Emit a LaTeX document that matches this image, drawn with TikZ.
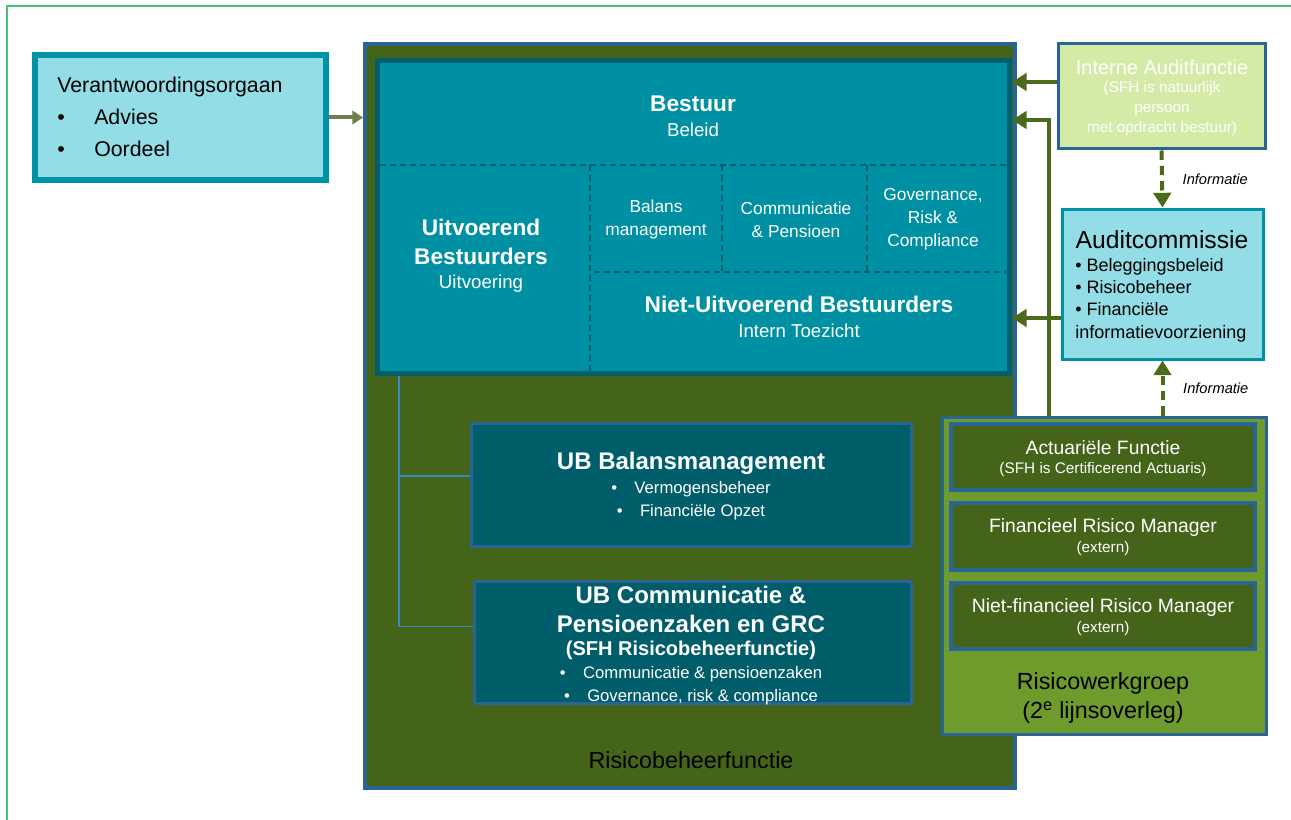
\documentclass[tikz,border=0pt]{standalone}
\usepackage{fontspec}
\setmainfont{Liberation Sans}
\usetikzlibrary{calc,fit,arrows.meta}

\definecolor{framegreen}{HTML}{47C46F}
\definecolor{lightcyan}{HTML}{93DDE6}
\definecolor{tealline}{HTML}{0093A8}
\definecolor{bestuurteal}{HTML}{0090A3}
\definecolor{darkteal}{HTML}{005F6B}
\definecolor{ubteal}{HTML}{005E6A}
\definecolor{oliveback}{HTML}{446519}
\definecolor{boxblue}{HTML}{2A6496}
\definecolor{treeblue}{HTML}{3B86C4}
\definecolor{auditgreen}{HTML}{D3EBA6}
\definecolor{midgreen}{HTML}{6E9B2B}
\definecolor{arrowgreen}{HTML}{4A6B1A}
\definecolor{arrowolive}{HTML}{6E7F4F}

\begin{document}
\begin{tikzpicture}[x=0.75pt,y=-0.75pt,
	box/.style={draw, inner sep=0pt, line width=2.25pt},
	mainbox/.style={box, draw=boxblue, fill=oliveback, line width=3pt},
	bestbox/.style={box, draw=darkteal, fill=bestuurteal, line width=3.75pt},
	ubbox/.style={box, draw=boxblue, fill=ubteal},
	cyanbox/.style={box, draw=tealline, fill=lightcyan},
	riskbox/.style={box, draw=boxblue, fill=oliveback, line width=3pt},
	divline/.style={darkteal, line width=1.2pt, dash pattern=on 4.5pt off 3pt},
	treeline/.style={treeblue, line width=1.2pt},
	garrow/.style={arrowgreen, line width=3pt, -{Triangle[length=11pt,width=13pt]}},
	infoarrow/.style={garrow, dash pattern=on 7pt off 4.5pt},
	oarrow/.style={arrowolive, line width=3pt, -{Triangle[length=8pt,width=10pt]}},
	wt/.style={text=white, align=center, inner sep=0pt},
	hd/.style={wt, font=\bfseries\fontsize{17}{21.75}\selectfont},
	sub/.style={wt, font=\fontsize{14}{17}\selectfont},
	cell/.style={wt, font=\fontsize{13}{17.25}\selectfont},
	ubhd/.style={wt, font=\bfseries\fontsize{18}{21.75}\selectfont},
	ublist/.style={wt, font=\fontsize{12.5}{17.25}\selectfont},
	small/.style={wt, font=\fontsize{11.5}{15}\selectfont},
	big/.style={align=center, inner sep=0pt, font=\fontsize{17.5}{21.75}\selectfont},
	info/.style={text=black, inner sep=0pt, font=\itshape\fontsize{11}{13}\selectfont}]
	
	\useasboundingbox (0,0) rectangle (1291,820);
	\draw[framegreen, line width=1.5pt] (7,820) -- (7,6) -- (1291,6);
	
	% Verantwoordingsorgaan
	\node[cyanbox, line width=4.5pt, fit={(35,55) (326,180)}] (verantw) {};
	\node[anchor=west, align=left, inner sep=0pt, font=\fontsize{16}{24}\selectfont] (tverantw) at (57,117)
		{Verantwoordingsorgaan\\\makebox[27.75pt][l]{\textbullet}Advies\\\makebox[27.75pt][l]{\textbullet}Oordeel};
	
	% Risicobeheerfunctie with the board inside
	\node[mainbox, fit={(365,44) (1015,788)}] (risico) {};
	\coordinate (troot) at (399,370);
	
	\node[ubbox, fit={(471.5,423.5) (911.5,546.5)}] (ubbal) {};
	\node[ubbox, fit={(474.5,581.5) (911.5,703.5)}] (ubcom) {};
	\draw[treeline] (troot) |- ($(ubbal.west)+(0,-9)$);
	\draw[treeline] (troot) |- ($(ubcom.west)+(0,-16)$);
	
	\node[bestbox, fit={(377.5,60.5) (1009.5,373.5)}] (bestuur) {};
	\draw[divline] (380,165) -- (1006,165);
	\draw[divline] (590,165) -- (590,372);
	\draw[divline] (594,272) -- (1006,272);
	\foreach \cx in {722,867}
	{
		\draw[divline] (\cx,165) -- (\cx,272);
	}
	
	\node[hd] (tbest) at (693,104) {Bestuur};
	\node[sub] (tbeleid) at (693,130) {Beleid};
	\node[hd] (tuitv) at (481,242) {Uitvoerend\\Bestuurders};
	\node[sub] (tuitvoering) at (481,284) {Uitvoering};
	\node[cell] (tbalans) at (656,220) {Balans\\management};
	\node[cell] (tcomm) at (796,220) {Communicatie\\\& Pensioen};
	\node[cell] (tgrc) at (933,219) {Governance,\\Risk \&\\Compliance};
	\node[hd] (tniet) at (799,304) {Niet-Uitvoerend Bestuurders};
	\node[sub] (ttoez) at (799,331) {Intern Toezicht};
	
	\node[ubhd] (tubbal) at (691,463) {UB Balansmanagement};
	\node[ublist] (lubbal) at (691,501)
		{\textbullet\hspace{13pt}Vermogensbeheer\\\textbullet\hspace{13pt}Financiële Opzet};
	\node[ubhd] (tubcom) at (691,609) {UB Communicatie \&\\Pensioenzaken en GRC};
	\node[wt, font=\bfseries\fontsize{15}{18}\selectfont] (tsfh) at (691,650) {(SFH Risicobeheerfunctie)};
	\node[ublist] (lubcom) at (691,686)
		{\textbullet\hspace{13pt}Communicatie \& pensioenzaken\\\textbullet\hspace{13pt}Governance, risk \& compliance};
	\node[big] (trisico) at (691,760) {Risicobeheerfunctie};
	
	% Risicowerkgroep
	\node[box, draw=boxblue, fill=midgreen, fit={(942,417) (1266,734)}] (rwg) {};
	\node[riskbox, fit={(951,424) (1255,490)}] (actu) {};
	\node[riskbox, fit={(951,503) (1255,570)}] (frm) {};
	\node[riskbox, fit={(951,583) (1255,649)}] (nfrm) {};
	\node[wt, font=\fontsize{14.5}{17}\selectfont] (tactu) at (1103,448) {Actuariële Functie};
	\node[small] (sactu) at (1103,470) {(SFH is Certificerend Actuaris)};
	\node[wt, font=\fontsize{14.5}{17}\selectfont] (tfrm) at (1103,527) {Financieel Risico Manager};
	\node[small] (sfrm) at (1103,549) {(extern)};
	\node[wt, font=\fontsize{14.5}{17}\selectfont] (tnfrm) at (1103,607) {Niet-financieel Risico Manager};
	\node[small] (snfrm) at (1103,629) {(extern)};
	\node[big] (trwg) at (1103,698) {Risicowerkgroep\\(2\textsuperscript{e} lijnsoverleg)};
	
	% Audit
	\node[box, draw=boxblue, fill=auditgreen, fit={(1058,44) (1265,149)}] (audit) {};
	\node[wt, font=\fontsize{15}{18}\selectfont] (taudit) at (1162,67) {Interne Auditfunctie};
	\node[small] (saudit) at (1162,109) {(SFH is natuurlijk\\persoon\\met opdracht bestuur)};
	\node[cyanbox, fit={(1062,209) (1263,359)}] (auditc) {};
	\node[inner sep=0pt, font=\fontsize{18.5}{22}\selectfont] (tauditc) at (1162,240) {Auditcommissie};
	\node[anchor=west, align=left, inner sep=0pt, font=\fontsize{13.5}{16.7}\selectfont] (lauditc) at (1075,300)
		{\textbullet{} Beleggingsbeleid\\\textbullet{} Risicobeheer\\\textbullet{} Financiële\\informatievoorziening};
	
	% Arrows
	\coordinate (ya) at (0,82);
	\coordinate (kn) at (1049,120);
	\coordinate (yc) at (0,318);
	\draw[oarrow] (verantw.east) -- (verantw.east -| risico.west);
	\draw[garrow] (audit.west |- ya) -- (bestuur.east |- ya);
	\draw[garrow] (rwg.north -| kn) |- (bestuur.east |- kn);
	\draw[garrow] (auditc.west |- yc) -- (bestuur.east |- yc);
	\draw[infoarrow] (audit.south) -- node[info, right=14pt] (inf1) {Informatie} (auditc.north);
	\draw[infoarrow] (rwg.north -| auditc.south) -- node[info, right=14pt] (inf2) {Informatie} (auditc.south);
\end{tikzpicture}
\end{document}
